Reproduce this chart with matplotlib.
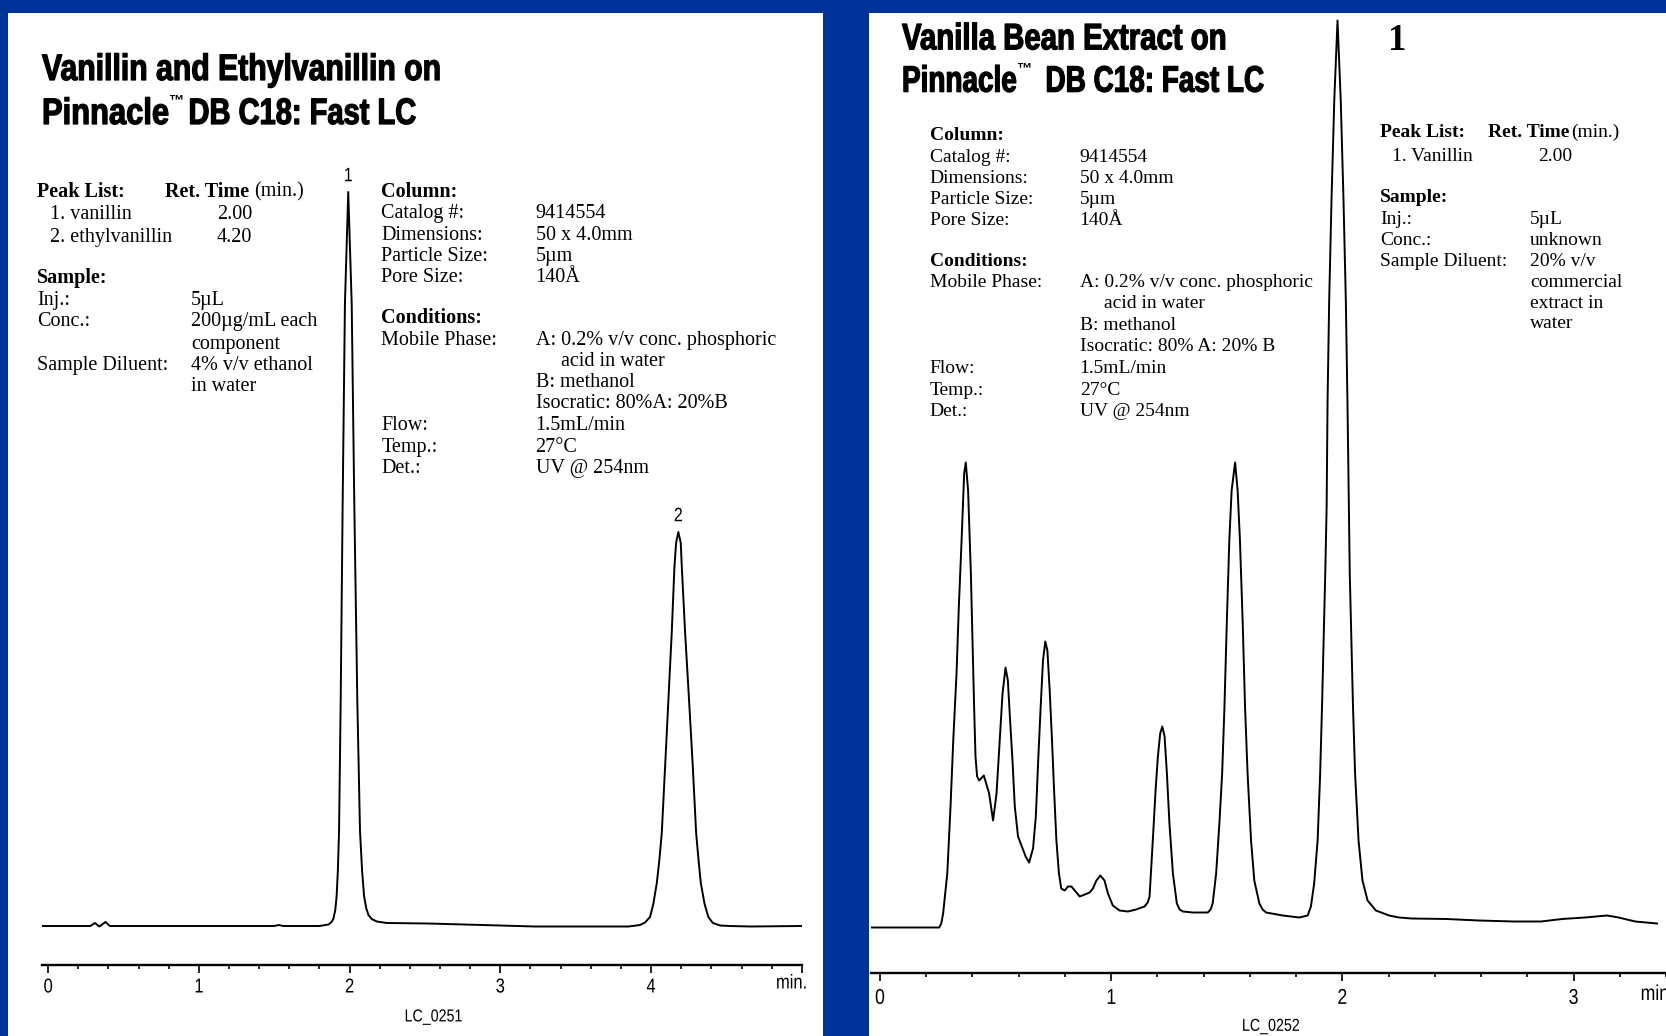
import matplotlib
matplotlib.use('Agg')
import matplotlib.pyplot as plt
import matplotlib.ticker as ticker
from matplotlib.patches import Rectangle
from matplotlib.patheffects import AbstractPathEffect
from matplotlib.transforms import Affine2D
from matplotlib.textpath import TextPath
from matplotlib.font_manager import FontProperties
import numpy as np

W, H = 1666, 1036
BLUE = '#003399'
SERIF = ['Liberation Serif', 'DejaVu Serif']
SANS = ['Liberation Sans', 'DejaVu Sans']

# ---- data (time in min, response in arb. units) ----
std_time = [-0.04, 0.28, 0.31, 0.34, 0.38, 0.41, 0.44, 1.00, 1.50, 1.53, 1.56, 1.80,
            1.86, 1.88, 1.892, 1.905, 1.914, 1.922, 1.930, 1.941, 1.954, 1.969, 1.991,
            2.014, 2.031, 2.051, 2.069, 2.083, 2.096, 2.11, 2.125, 2.147, 2.18, 2.246,
            2.52, 2.88, 3.23, 3.85, 3.927, 3.96, 3.993, 4.015, 4.038, 4.055, 4.071,
            4.093, 4.115, 4.137, 4.155, 4.166, 4.181, 4.197, 4.204, 4.226, 4.252, 4.277,
            4.299, 4.315, 4.330, 4.355, 4.380, 4.41, 4.458, 4.52, 4.66, 5.0]
std_signal = [0, 0, 3, -0.5, 4, 0, 0, 0, 0, 1, 0, 0,
              1.5, 4, 7, 16, 30, 55, 95, 227, 424, 622, 734,
              622, 424, 227, 95, 55, 30, 18, 11, 7, 4.5, 3,
              2.5, 1, -0.5, -0.5, 1, 3.5, 9, 22, 43, 66, 93,
              159, 226, 293, 359, 383, 394, 383, 359, 293, 226, 159,
              93, 66, 43, 22, 9, 3, 0.5, 0, -0.5, 0]
std_peak_time = [1.991, 4.181]
std_peak_label = ['1', '2']

ext_time = [-0.036, 0.256, 0.265, 0.273, 0.291, 0.305, 0.317, 0.331, 0.341, 0.353, 0.364,
            0.371, 0.381, 0.393, 0.400, 0.407, 0.413, 0.420, 0.429, 0.449, 0.472, 0.489,
            0.504, 0.518, 0.530, 0.543, 0.553, 0.561, 0.573, 0.583, 0.597, 0.612, 0.630,
            0.645, 0.662, 0.674, 0.685, 0.695, 0.705, 0.715, 0.724, 0.734, 0.744, 0.753,
            0.763, 0.774, 0.784, 0.799, 0.813, 0.828, 0.846, 0.864, 0.885, 0.907, 0.921,
            0.936, 0.953, 0.971, 0.986, 1.007, 1.036, 1.072, 1.108, 1.144, 1.158, 1.166,
            1.180, 1.192, 1.202, 1.212, 1.221, 1.231, 1.241, 1.252, 1.267, 1.284, 1.296,
            1.310, 1.353, 1.418, 1.430, 1.439, 1.454, 1.468, 1.480, 1.490, 1.500, 1.511,
            1.521, 1.536, 1.547, 1.557, 1.569, 1.579, 1.590, 1.605, 1.619, 1.641, 1.655,
            1.670, 1.742, 1.814, 1.850, 1.864, 1.878, 1.893, 1.904, 1.912, 1.919, 1.926,
            1.932, 1.936, 1.943, 1.953, 1.965, 1.979, 1.993, 2.005, 2.015, 2.022, 2.027,
            2.032, 2.039, 2.046, 2.055, 2.070, 2.087, 2.109, 2.145, 2.202, 2.245, 2.30,
            2.45, 2.59, 2.74, 2.86, 2.95, 3.05, 3.145, 3.195, 3.267, 3.361]
ext_signal = [0, 0, 4, 14, 54, 121, 188, 254, 321, 388, 454,
              465, 437, 354, 287, 221, 171, 151, 147, 152, 134, 107,
              134, 187, 234, 260, 247, 214, 167, 121, 91, 82, 71,
              65, 79, 111, 171, 221, 267, 286, 277, 237, 187, 137,
              87, 54, 39, 37, 41, 41, 36, 31, 33, 35, 39,
              47, 52, 47, 34, 22, 17, 16, 18, 21, 25, 31,
              87, 137, 171, 194, 201, 191, 154, 104, 54, 24, 18,
              16, 15, 15, 18, 24, 54, 104, 154, 221, 304, 387,
              437, 465, 437, 387, 304, 221, 154, 87, 47, 24, 18,
              15, 12, 10, 12, 21, 44, 87, 154, 221, 287, 354,
              421, 527, 627, 727, 827, 907, 827, 727, 627, 527, 440,
              354, 287, 221, 154, 87, 47, 27, 17, 12, 10, 9,
              8.5, 7, 6, 6, 8.5, 10, 12, 10, 6, 4]


class Reshape(AbstractPathEffect):
    """Scale a text path in its own (baseline) frame, optionally with a thin outline."""
    def __init__(self, sx=1.0, sy=1.0, stroke=0.0, centred=False):
        super().__init__()
        self.sx, self.sy, self.stroke, self.centred = sx, sy, stroke, centred

    def draw_path(self, renderer, gc, tpath, affine, rgbFace=None):
        tr = Affine2D().scale(self.sx, self.sy) + affine
        if self.centred:
            bb0 = tpath.get_extents(affine)
            bb1 = tpath.get_extents(tr)
            tr = tr + Affine2D().translate(0.5 * (bb0.x0 + bb0.x1 - bb1.x0 - bb1.x1), 0)
        gc0 = renderer.new_gc()
        gc0.copy_properties(gc)
        if self.stroke:
            gc0.set_linewidth(self.stroke)
            gc0.set_foreground(rgbFace)
            gc0.set_joinstyle('round')
        renderer.draw_path(gc0, tpath, tr, rgbFace)


fig = plt.figure(figsize=(W / 100, H / 100), dpi=100)
fig.patch.set_facecolor(BLUE)

# white panels
for x0, x1 in [(8, 823), (869, W)]:
    fig.patches.append(Rectangle((x0 / W, 0), (x1 - x0) / W, 1 - 13 / H, transform=fig.transFigure,
                                 facecolor='white', edgecolor='none', zorder=-5))


def ftext(x, y, s, size=14.5, bold=False, family=SERIF, **kw):
    return fig.text(x / W, 1 - y / H, s, fontsize=size, family=family,
                    fontweight='bold' if bold else 'normal', va='baseline', **kw)


TITLE_FP = FontProperties(family=SANS, weight='bold')


def title(x, y, s, width, size=26.5):
    # condensed heavy title: pick the size that gives the wanted width, then stretch it up
    ink = TextPath((0, 0), s, size=size * 100 / 72, prop=TITLE_FP).get_extents().width
    fs = size * width / ink
    ftext(x, y, s, size=fs, bold=True, family=SANS,
          path_effects=[Reshape(sy=size / fs, stroke=0.9)])


def block(xl, xv, rows, size):
    for y, lab, val, bold in rows:
        if lab:
            ftext(xl, y, lab, size=size, bold=bold)
        if val:
            ftext(xv, y, val, size=size)


def make_axes(x0, x1, ybot, xlim, ylim):
    ax = fig.add_axes([x0 / W, 1 - ybot / H, (x1 - x0) / W, (ybot - 13) / H])
    ax.set_xlim(xlim)
    ax.set_ylim(ylim)
    ax.patch.set_visible(False)
    for s in ['top', 'right', 'left']:
        ax.spines[s].set_visible(False)
    ax.spines['bottom'].set_linewidth(1.7)
    ax.yaxis.set_visible(False)
    ax.xaxis.set_minor_locator(ticker.MultipleLocator(0.2))
    ax.tick_params(axis='x', which='major', length=5.5, width=1.2, direction='out')
    ax.tick_params(axis='x', which='minor', length=3, width=1.2, direction='out')
    return ax


narrow = [Reshape(sx=0.82, centred=True)]

# ---------------- left panel ----------------
title(42, 80, 'Vanillin and Ethylvanillin on', 397)
title(42, 124, 'Pinnacle', 124)
ftext(168.5, 104, '\u2122', size=11, bold=True, family=SANS)
title(188.5, 124, 'DB C18: Fast LC', 225)

ftext(37, 196.7, 'Peak List:', bold=True)
ftext(164.7, 196.7, 'Ret. Time', bold=True)
ftext(254.4, 196.7, '(min.)')
block(49.9, 216.8, [(219, '1. vanillin', '2.00', False),
                    (242.4, '2. ethylvanillin', '4.20', False)], 14.5)
block(37, 191.2, [(282.7, 'Sample:', None, True),
                  (305, 'Inj.:', '5\u00b5L', False),
                  (326.3, 'Conc.:', '200\u00b5g/mL each', False),
                  (348.6, None, 'component', False),
                  (369.9, 'Sample Diluent:', '4% v/v ethanol', False),
                  (391.1, None, 'in water', False)], 14.5)
block(381.4, 535.6, [(196.7, 'Column:', None, True),
                     (218.3, 'Catalog #:', '9414554', False),
                     (240, 'Dimensions:', '50 x 4.0mm', False),
                     (260.7, 'Particle Size:', '5\u00b5m', False),
                     (281.7, 'Pore Size:', '140\u00c5', False),
                     (322.7, 'Conditions:', None, True),
                     (345, 'Mobile Phase:', 'A: 0.2% v/v conc. phosphoric', False),
                     (386.7, None, 'B: methanol', False),
                     (408.3, None, 'Isocratic: 80%A: 20%B', False),
                     (430, 'Flow:', '1.5mL/min', False),
                     (451.7, 'Temp.:', '27\u00b0C', False),
                     (473.3, 'Det.:', 'UV @ 254nm', False)], 14.5)
ftext(561.3, 366, 'acid in water')

axl = make_axes(41.8, 801.8, 965, (-0.042, 5.0), (-39, 913))
axl.plot(std_time, std_signal, color='black', lw=1.4, solid_joinstyle='round')
axl.set_xticks([0, 1, 2, 3, 4, 5], ['0', '1', '2', '3', '4', ''], fontsize=14.5, family=SANS)
for lab in axl.get_xticklabels():
    lab.set_path_effects(narrow)
axl.tick_params(axis='x', which='major', pad=3.5)
for t, lab in zip(std_peak_time, std_peak_label):
    axl.annotate(lab, xy=(t, np.interp(t, std_time, std_signal)), xytext=(0, 11),
                 textcoords='offset points', ha='center', va='center',
                 fontsize=14, family=SANS, path_effects=narrow)
fig.text(791.6 / W, 1 - 983 / H, 'min.', fontsize=14.5, family=SANS, ha='center', va='center',
         path_effects=narrow)
fig.text(433.5 / W, 1 - 1017 / H, 'LC_0251', fontsize=12.5, family=SANS, ha='center', va='center',
         path_effects=narrow)

# ---------------- right panel ----------------
title(902, 49.3, 'Vanilla Bean Extract on', 322.6)
title(902, 91.7, 'Pinnacle', 112)
ftext(1016, 72, '\u2122', size=11, bold=True, family=SANS)
title(1045.5, 91.7, 'DB C18: Fast LC', 216)

block(929.6, 1079.7, [(140, 'Column:', None, True),
                      (161.7, 'Catalog #:', '9414554', False),
                      (182.7, 'Dimensions:', '50 x 4.0mm', False),
                      (204, 'Particle Size:', '5\u00b5m', False),
                      (225, 'Pore Size:', '140\u00c5', False),
                      (266, 'Conditions:', None, True),
                      (286.7, 'Mobile Phase:', 'A: 0.2% v/v conc. phosphoric', False),
                      (330, None, 'B: methanol', False),
                      (351, None, 'Isocratic: 80% A: 20% B', False),
                      (373.3, 'Flow:', '1.5mL/min', False),
                      (395, 'Temp.:', '27\u00b0C', False),
                      (416, 'Det.:', 'UV @ 254nm', False)], 14)
ftext(1104.5, 308.3, 'acid in water', size=14)

ftext(1380, 137.3, 'Peak List:', size=14, bold=True)
ftext(1488, 137.3, 'Ret. Time', size=14, bold=True)
ftext(1571, 137.3, '(min.)', size=14)
ftext(1392, 160.7, '1. Vanillin', size=14)
ftext(1538, 160.7, '2.00', size=14)
block(1380, 1530, [(201.7, 'Sample:', None, True),
                   (224, 'Inj.:', '5\u00b5L', False),
                   (245, 'Conc.:', 'unknown', False),
                   (265.7, 'Sample Diluent:', '20% v/v', False),
                   (287.3, None, 'commercial', False),
                   (308.3, None, 'extract in', False),
                   (328.3, None, 'water', False)], 14)

axr = make_axes(871, 1666, 973.3, (-0.039, 3.40), (-45.8, 914.5))
axr.plot(ext_time, ext_signal, color='black', lw=1.4, solid_joinstyle='round')
axr.set_xticks([0, 1, 2, 3], ['0', '1', '2', '3'], fontsize=15.5, family=SANS)
for lab in axr.get_xticklabels():
    lab.set_path_effects(narrow)
axr.tick_params(axis='x', which='major', pad=5)
axr.text(2.237, 887, '1', fontsize=26.5, family=SERIF, fontweight='bold', ha='center', va='center')
fig.text(1637 / W, 1 - 994.5 / H, 'min.', fontsize=15.5, family=SANS, ha='left', va='center',
         path_effects=narrow)
fig.text(1270.8 / W, 1 - 1026.4 / H, 'LC_0252', fontsize=12.5, family=SANS, ha='center', va='center',
         path_effects=narrow)

fig.savefig('out.png', dpi=100, facecolor=BLUE)
